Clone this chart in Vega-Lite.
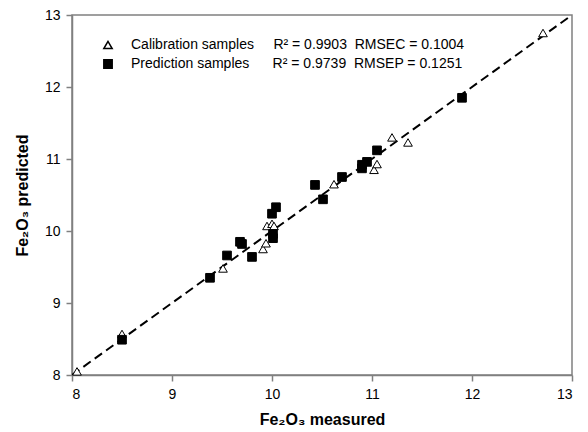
{
  "$schema": "https://vega.github.io/schema/vega-lite/v6.json",
  "width": 500,
  "height": 360,
  "autosize": "none",
  "padding": {"left": 72, "top": 15, "right": 16, "bottom": 57},
  "background": "white",
  "config": {
    "font": "Liberation Sans",
    "view": {"stroke": "#808080", "strokeWidth": 1.5},
    "axis": {
      "grid": false,
      "domainColor": "#808080",
      "domainWidth": 1.5,
      "tickColor": "#808080",
      "tickWidth": 1.5,
      "tickSize": 6,
      "labelFont": "Liberation Sans",
      "labelFontSize": 14,
      "labelColor": "black",
      "titleFont": "Liberation Sans",
      "titleFontSize": 16,
      "titleFontWeight": "bold",
      "titleColor": "black"
    }
  },
  "datasets": {
    "pts": [
      {"set": "Calibration", "measured": 8.05, "predicted": 8.05},
      {"set": "Calibration", "measured": 8.50, "predicted": 8.57},
      {"set": "Calibration", "measured": 9.51, "predicted": 9.48},
      {"set": "Calibration", "measured": 9.91, "predicted": 9.75},
      {"set": "Calibration", "measured": 9.94, "predicted": 9.83},
      {"set": "Calibration", "measured": 9.95, "predicted": 10.07},
      {"set": "Calibration", "measured": 10.00, "predicted": 10.10},
      {"set": "Calibration", "measured": 10.02, "predicted": 10.07},
      {"set": "Calibration", "measured": 10.62, "predicted": 10.65},
      {"set": "Calibration", "measured": 11.02, "predicted": 10.85},
      {"set": "Calibration", "measured": 11.05, "predicted": 10.93},
      {"set": "Calibration", "measured": 11.20, "predicted": 11.30},
      {"set": "Calibration", "measured": 11.36, "predicted": 11.23},
      {"set": "Calibration", "measured": 12.71, "predicted": 12.75},
      {"set": "Prediction", "measured": 8.50, "predicted": 8.49},
      {"set": "Prediction", "measured": 9.38, "predicted": 9.35},
      {"set": "Prediction", "measured": 9.55, "predicted": 9.66},
      {"set": "Prediction", "measured": 9.68, "predicted": 9.85},
      {"set": "Prediction", "measured": 9.70, "predicted": 9.82},
      {"set": "Prediction", "measured": 9.80, "predicted": 9.64},
      {"set": "Prediction", "measured": 10.01, "predicted": 9.90},
      {"set": "Prediction", "measured": 10.01, "predicted": 9.96},
      {"set": "Prediction", "measured": 10.00, "predicted": 10.24},
      {"set": "Prediction", "measured": 10.04, "predicted": 10.33},
      {"set": "Prediction", "measured": 10.43, "predicted": 10.64},
      {"set": "Prediction", "measured": 10.51, "predicted": 10.44},
      {"set": "Prediction", "measured": 10.70, "predicted": 10.75},
      {"set": "Prediction", "measured": 10.90, "predicted": 10.87},
      {"set": "Prediction", "measured": 10.90, "predicted": 10.92},
      {"set": "Prediction", "measured": 10.95, "predicted": 10.96},
      {"set": "Prediction", "measured": 11.05, "predicted": 11.12},
      {"set": "Prediction", "measured": 11.90, "predicted": 11.85}
    ],
    "line": [
      {"measured": 8, "predicted": 8},
      {"measured": 13, "predicted": 13}
    ]
  },
  "layer": [
    {
      "data": {"name": "line"},
      "mark": {"type": "line", "color": "black", "strokeWidth": 2, "strokeDash": [9, 5], "clip": true},
      "encoding": {
        "x": {"field": "measured", "type": "quantitative", "scale": {"domain": [8, 13], "nice": false, "zero": false},
          "axis": {"title": "Fe₂O₃ measured", "values": [8, 9, 10, 11, 12, 13], "format": "d", "titlePadding": 10, "labelPadding": 6}},
        "y": {"field": "predicted", "type": "quantitative", "scale": {"domain": [8, 13], "nice": false, "zero": false},
          "axis": {"title": "Fe₂O₃ predicted", "values": [8, 9, 10, 11, 12, 13], "format": "d", "titlePadding": 14, "labelPadding": 6}}
      }
    },
    {
      "data": {"name": "pts"},
      "mark": {"type": "point", "filled": true, "stroke": "black", "strokeWidth": 1, "opacity": 1},
      "encoding": {
        "x": {"field": "measured", "type": "quantitative"},
        "y": {"field": "predicted", "type": "quantitative"},
        "shape": {"field": "set", "type": "nominal",
          "scale": {"domain": ["Calibration", "Prediction"], "range": ["triangle-up", "square"]},
          "legend": {"title": null, "orient": "none", "legendX": 29, "legendY": 23, "labelFontSize": 14, "labelFont": "Liberation Sans", "labelColor": "black", "labelLimit": 0, "symbolSize": 70, "labelOffset": 16, "rowPadding": 4,
            "encode": {"symbols": {"update": {"stroke": {"value": "black"}, "strokeWidth": {"value": 1}}}},
            "labelExpr": "datum.label == 'Calibration' ? 'Calibration samples\u00a0\u00a0\u00a0\u00a0\u00a0R² = 0.9903\u00a0\u00a0RMSEC = 0.1004' : 'Prediction samples\u00a0\u00a0\u00a0\u00a0\u00a0\u00a0R² = 0.9739\u00a0\u00a0RMSEP = 0.1251'"}},
        "fill": {"field": "set", "type": "nominal",
          "scale": {"domain": ["Calibration", "Prediction"], "range": ["white", "black"]},
          "legend": {"title": null, "orient": "none", "legendX": 29, "legendY": 23, "labelFontSize": 14, "labelFont": "Liberation Sans", "labelColor": "black", "labelLimit": 0, "symbolSize": 70, "labelOffset": 16, "rowPadding": 4,
            "encode": {"symbols": {"update": {"stroke": {"value": "black"}, "strokeWidth": {"value": 1}}}},
            "labelExpr": "datum.label == 'Calibration' ? 'Calibration samples\u00a0\u00a0\u00a0\u00a0\u00a0R² = 0.9903\u00a0\u00a0RMSEC = 0.1004' : 'Prediction samples\u00a0\u00a0\u00a0\u00a0\u00a0\u00a0R² = 0.9739\u00a0\u00a0RMSEP = 0.1251'"}},
        "size": {"value": 75}
      }
    }
  ]
}
